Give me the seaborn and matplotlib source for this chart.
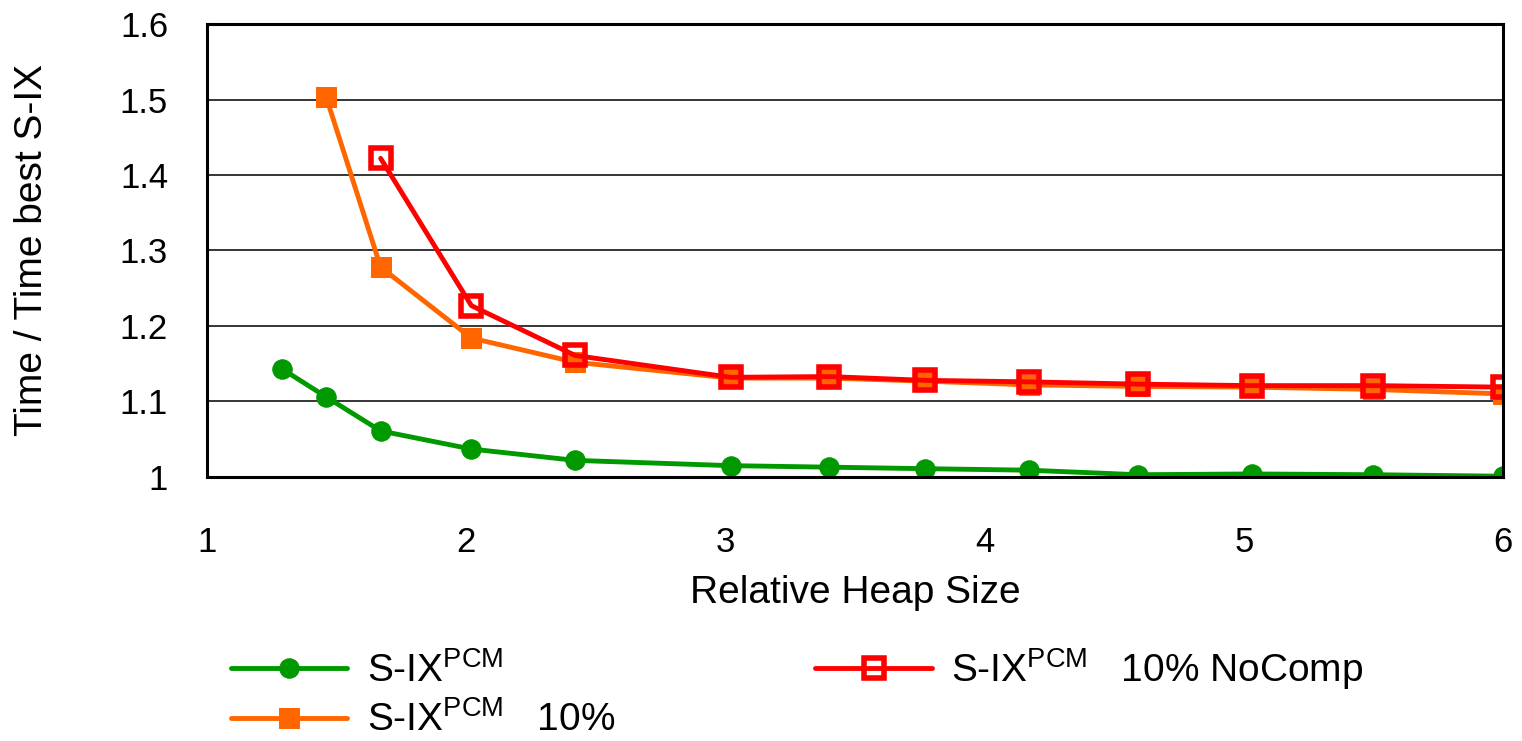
import numpy as np
import pandas as pd
import matplotlib
matplotlib.use('Agg')
import matplotlib.pyplot as plt
import seaborn as sns

# relative heap sizes
heap_all = [1.29, 1.46, 1.67, 2.02, 2.42, 3.02, 3.40, 3.77, 4.17, 4.59, 5.03, 5.50, 6.00]
heap_10 = heap_all[1:]
heap_nc = heap_all[2:]

# time / time best S-IX
six_pcm = [1.143, 1.106, 1.061, 1.037, 1.022, 1.015, 1.013, 1.011, 1.009, 1.003, 1.004, 1.003, 1.001]
six_pcm_10 = [1.503, 1.278, 1.184, 1.152, 1.131, 1.131, 1.127, 1.122, 1.120, 1.119, 1.116, 1.110]
six_pcm_10_nocomp = [1.422, 1.227, 1.161, 1.132, 1.133, 1.128, 1.126, 1.123, 1.121, 1.121, 1.119]

labels = [r'S-IX$^{\mathrm{PCM}}$',
          r'S-IX$^{\mathrm{PCM}}$   10%',
          r'S-IX$^{\mathrm{PCM}}$   10% NoComp']

df = pd.concat([
    pd.DataFrame({'heap': heap_all, 'ratio': six_pcm, 'series': labels[0]}),
    pd.DataFrame({'heap': heap_10, 'ratio': six_pcm_10, 'series': labels[1]}),
    pd.DataFrame({'heap': heap_nc, 'ratio': six_pcm_10_nocomp, 'series': labels[2]}),
])

sns.set_style('white')
plt.rcParams['font.family'] = ['Liberation Sans', 'DejaVu Sans']
plt.rcParams['mathtext.fontset'] = 'custom'
plt.rcParams['mathtext.rm'] = 'Liberation Sans'
plt.rcParams['mathtext.it'] = 'Liberation Sans:italic'
plt.rcParams['text.color'] = 'black'
plt.rcParams['axes.labelcolor'] = 'black'
plt.rcParams['xtick.color'] = 'black'
plt.rcParams['ytick.color'] = 'black'

fig = plt.figure(figsize=(15.22, 7.41), dpi=100)
ax = fig.add_axes([0.136, 0.3563, 0.8515, 0.6113])

styles = {
    labels[0]: dict(color='#009900', marker='o', markersize=14, markerfacecolor='#009900', markeredgecolor='#009900'),
    labels[1]: dict(color='#FF6600', marker='s', markersize=15, markerfacecolor='#FF6600', markeredgecolor='#FF6600'),
    labels[2]: dict(color='#FF0000', marker='s', markersize=14, markerfacecolor='none', markeredgecolor='#FF0000', markeredgewidth=4),
}

for lab in labels:
    sub = df[df['series'] == lab]
    sns.lineplot(data=sub, x='heap', y='ratio', ax=ax, label=lab, linewidth=3.5, **styles[lab])

ax.set_xlim(1, 6)
ax.set_ylim(1, 1.6)
ax.set_xticks([1, 2, 3, 4, 5, 6])
ax.set_yticks([1, 1.1, 1.2, 1.3, 1.4, 1.5, 1.6])
ax.set_yticklabels(['1', '1.1', '1.2', '1.3', '1.4', '1.5', '1.6'])
ax.yaxis.grid(True, color='black', linewidth=1.1)
ax.xaxis.grid(False)
for s in ax.spines.values():
    s.set_color('black')
    s.set_linewidth(2.2)
ax.tick_params(axis='both', labelsize=25, direction='out', length=10, width=1.5)
ax.tick_params(axis='x', pad=25)
ax.tick_params(axis='y', pad=18)
ax.set_xlabel('Relative Heap Size', fontsize=28, labelpad=12)
ax.set_ylabel('Time / Time best S-IX', fontsize=28, labelpad=50)

ax.get_legend().remove()
handles, labs = ax.get_legend_handles_labels()
fig.legend(handles, labs, loc='upper left', bbox_to_anchor=(0.1516, 0.128), ncol=2,
           frameon=False, fontsize=28, handlelength=3.0, columnspacing=5.15,
           labelspacing=0.3, handletextpad=0.5, borderaxespad=0, borderpad=0)
fig.savefig('out.png', dpi=100)
